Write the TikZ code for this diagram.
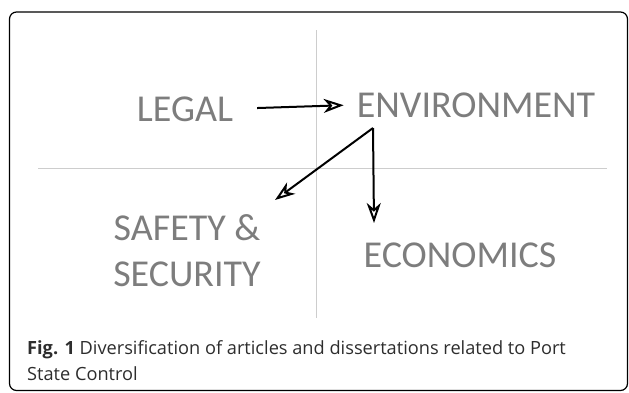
\documentclass[tikz,border=0pt]{standalone}
\usepackage{fontspec}
\usetikzlibrary{arrows.meta}
\newfontfamily\labelfont{Carlito}
\newfontfamily\capfont{Open Sans}

\definecolor{labelgray}{RGB}{125,125,125}
\definecolor{gridgray}{RGB}{205,205,205}
\definecolor{captext}{RGB}{45,45,45}

\begin{document}
\begin{tikzpicture}[x=1pt, y=-1pt,
    label/.style={inner sep=0pt, text=labelgray, font=\labelfont\fontsize{38}{46}\selectfont},
    arr/.style={black, line width=2pt, -{Stealth[open, length=20pt, width=14pt, inset=6pt]}}]
            \useasboundingbox (0,0) rectangle (629,392);
            \draw[black, line width=1.2pt, rounded corners=7pt] (9.5,12) rectangle (627.5,390.5);

            \draw[gridgray, line width=0.8pt] (316,30) -- (316,318);
            \draw[gridgray, line width=0.8pt] (38,168) -- (607,168);

            \node[label, anchor=base] (legal) at (185,121) {LEGAL};
            \node[label, anchor=base] (env) at (476,117) {ENVIRONMENT};
            \node[label, anchor=base] (econ) at (460,267) {ECONOMICS};
            \node[label, align=center] (safety) at (187,251) {SAFETY \&\\SECURITY};

            \coordinate (fork) at (373,128);
            \coordinate (safetytip) at (275,200);
            \coordinate (econtip) at (374,223);

            \draw[arr, shorten <=24pt, shorten >=13pt] (legal.east) -- (env.west);
            \draw[arr] (fork) -- (safetytip);
            \draw[arr] (fork) -- (econtip);

            \node[anchor=base west, inner sep=0pt, align=left, text=captext,
                font=\capfont\fontsize{18.2}{26}\selectfont] (caption) at (27,380)
                {\textbf{Fig. 1} Diversification of articles and dissertations related to Port\\State Control};
        \end{tikzpicture}
\end{document}
